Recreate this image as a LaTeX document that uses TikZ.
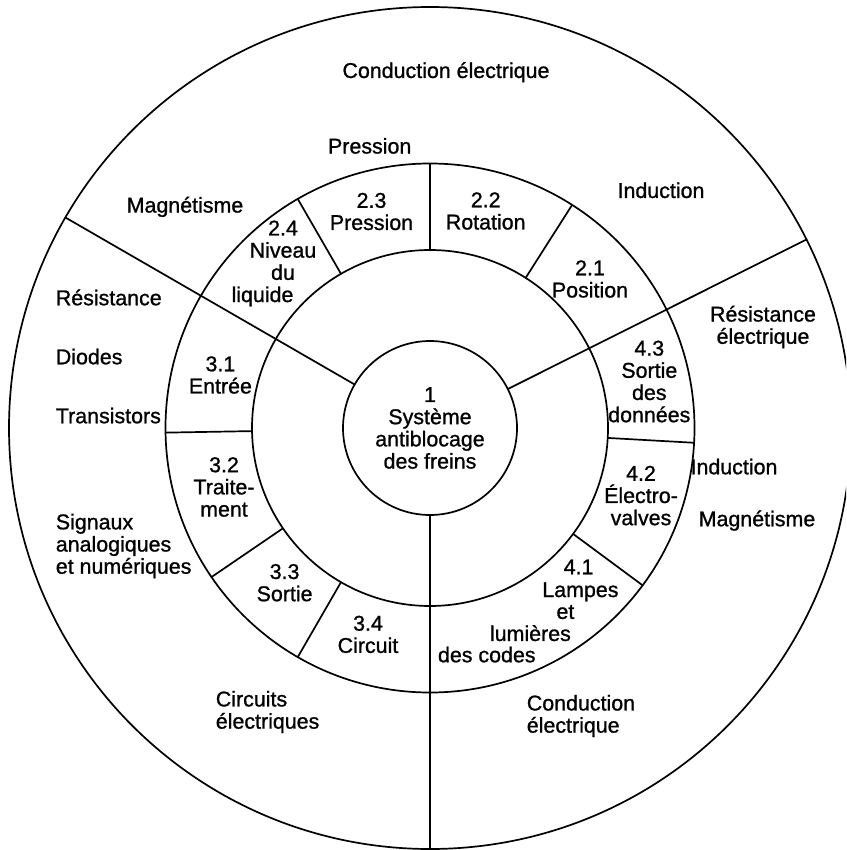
\documentclass[tikz,border=0pt]{standalone}
\usepackage{fontspec}
\setmainfont{Liberation Sans}[FakeBold=1.0]
\usetikzlibrary{calc}
\begin{document}
\begin{tikzpicture}[x=1pt,y=1pt, line width=1.7pt,
  lbl/.style={font=\fontsize{21.4}{22.2}\selectfont, align=center, inner sep=0pt},
  one/.style={lbl, text height=15pt, text depth=4.5pt},
  lft/.style={lbl, align=left, anchor=west}]
\useasboundingbox (0,0) rectangle (846,-850);
\clip (0,0) rectangle (846,-850);
\coordinate (c) at (430,-428);
% circles
\draw (c) circle[radius=421];
\draw (c) circle[radius=264.5];
\draw (c) circle[radius=178];
\node[circle, draw, minimum size=174pt, inner sep=0pt, lbl] (core) at (c) {1\\Système\\antiblocage\\des freins};
% main radial lines
\foreach \a in {150,26.6,270}{
  \draw ($(c)+(\a:87)$) -- ($(c)+(\a:421)$);
}
% ring subdivisions
\foreach \a in {57.5,90,120,181,214.3,240,323.5,356.8}{
  \draw ($(c)+(\a:178)$) -- ($(c)+(\a:264.5)$);
}
% ring labels
\node[lbl] (t21) at (590,-279) {2.1\\Position};
\node[lbl] (t22) at (485.7,-211) {2.2\\Rotation};
\node[lbl] (t23) at (371.5,-211.5) {2.3\\Pression};
\node[lbl] (t24) at (283,-263.5) {2.4\\Niveau\\du\\\hspace*{-41pt}liquide};
\node[lbl] (t31) at (220.4,-375) {3.1\\Entrée};
\node[lbl] (t32) at (224,-487) {3.2\\Traite-\\ment};
\node[lbl] (t33) at (284.6,-582.7) {3.3\\Sortie};
\node[lbl] (t34) at (368,-634.4) {3.4\\Circuit};
\node[lbl] (t43) at (649.3,-381.5) {4.3\\Sortie\\des\\données};
\node[lbl] (t42) at (641,-495.6) {4.2\\Électro-\\valves};
\node[one] (t41a) at (578.6,-569) {4.1};
\node[one] (t41b) at (580.4,-591.8) {Lampes};
\node[one] (t41c) at (565.4,-613.6) {et};
\node[one] (t41d) at (530.4,-635.7) {lumières};
\node[one] (t41e) at (486.8,-657) {des codes};
% outer labels
\node[one] (o1) at (446,-72.7) {Conduction électrique};
\node[one] (o2) at (369.7,-148.3) {Pression};
\node[one] (o3) at (185,-207.3) {Magnétisme};
\node[one] (o4) at (661,-192.7) {Induction};
\node[one, anchor=west] (o5) at (55,-300) {Résistance};
\node[one, anchor=west] (o6) at (55,-359) {Diodes};
\node[one, anchor=west] (o7) at (55,-418) {Transistors};
\node[lft] (o8) at (55,-546) {Signaux\\analogiques\\et numériques};
\node[lbl] (o9) at (763,-327) {Résistance\\électrique};
\node[one] (o10) at (734,-469) {Induction};
\node[one] (o11) at (757,-521) {Magnétisme};
\node[lft] (o12) at (215,-712) {Circuits\\électriques};
\node[lft] (o13) at (526,-716) {Conduction\\électrique};
\end{tikzpicture}
\end{document}
